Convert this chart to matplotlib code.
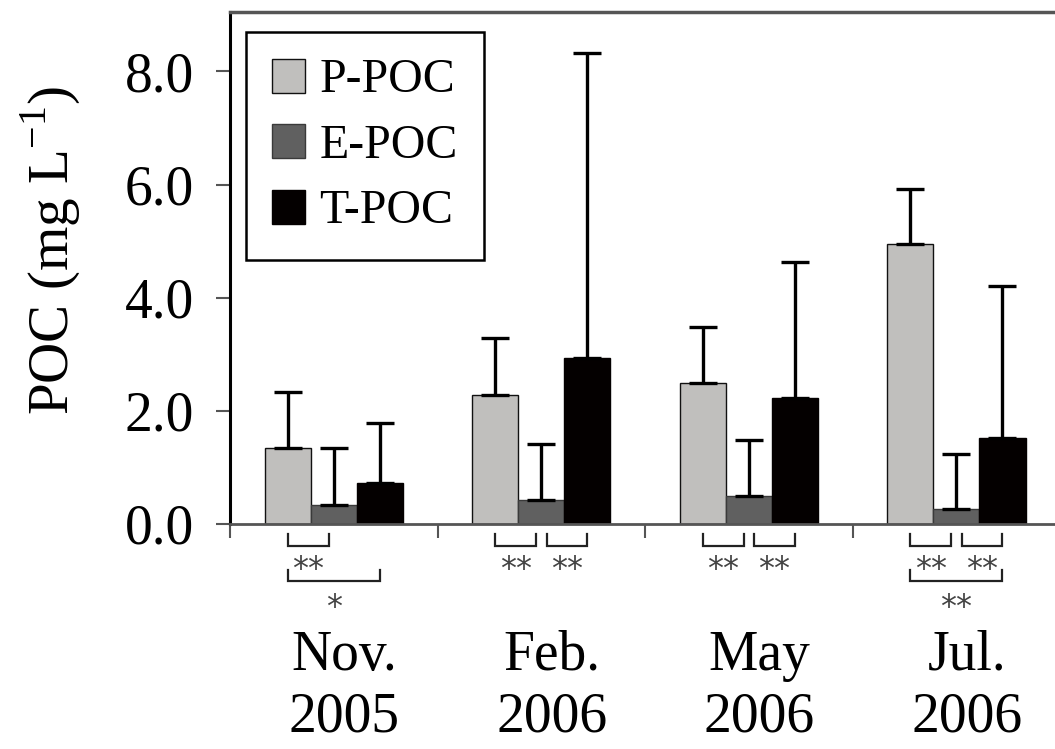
import numpy as np
import matplotlib
matplotlib.use("Agg")
import matplotlib.pyplot as plt

# data
months = ["Nov.\n2005", "Feb.\n2006", "May\n2006", "Jul.\n2006"]
series = ["P-POC", "E-POC", "T-POC"]
p_poc = [1.35, 2.28, 2.49, 4.95]
e_poc = [0.34, 0.42, 0.50, 0.27]
t_poc = [0.73, 2.94, 2.23, 1.52]
p_err = [0.99, 1.00, 1.00, 0.97]
e_err = [1.01, 1.00, 0.98, 0.97]
t_err = [1.06, 5.38, 2.40, 2.68]
colors = ["#c0bfbd", "#606060", "#040000"]

# significance brackets: (month index, bar i, bar j, row, stars)
brackets = [
    (0, 0, 1, 0, "**"),
    (0, 0, 2, 1, "*"),
    (1, 0, 1, 0, "**"),
    (1, 1, 2, 0, "**"),
    (2, 0, 1, 0, "**"),
    (2, 1, 2, 0, "**"),
    (3, 0, 1, 0, "**"),
    (3, 1, 2, 0, "**"),
    (3, 0, 2, 1, "**"),
]

plt.rcParams["font.family"] = ["Liberation Serif", "DejaVu Serif"]
plt.rcParams["mathtext.fontset"] = "custom"
plt.rcParams["mathtext.rm"] = "Liberation Serif"

fig = plt.figure(figsize=(10.55, 7.49), dpi=100)
ax = fig.add_axes([230 / 1055, 1 - 524 / 749, 1 - 230 / 1055, 512 / 749])

x = np.arange(len(months))
w = 0.222
vals = [p_poc, e_poc, t_poc]
errs = [p_err, e_err, t_err]
edges = ["#111111", "#3a3a3a", "#040000"]
for k in range(3):
    xs = x + (k - 1) * w
    ax.bar(xs, vals[k], w, color=colors[k], edgecolor=edges[k], linewidth=1.0,
           label=series[k], zorder=2)
    ax.errorbar(xs, vals[k], yerr=[np.zeros(4), errs[k]], fmt="none",
                ecolor="black", elinewidth=2.4, capsize=10, capthick=2.4, zorder=3)

ax.set_xlim(-0.5, 3.475)
ax.set_ylim(0, 9.05)

ax.set_yticks([0, 2, 4, 6, 8])
ax.set_yticklabels(["0.0", "2.0", "4.0", "6.0", "8.0"])
ax.tick_params(axis="y", direction="out", length=10, width=1.5, color="#555555",
               labelsize=40, pad=16)

ax.set_xticks([-0.5, 0.5, 1.5, 2.5])
ax.set_xticklabels([])
ax.tick_params(axis="x", which="major", direction="out", length=10, width=1.5,
               color="#555555")
ax.set_xticks(x + 0.05, minor=True)
ax.set_xticklabels(months, minor=True, fontsize=40, linespacing=1.25)
ax.tick_params(axis="x", which="minor", length=0, pad=76)

ax.spines["left"].set_linewidth(2.2)
ax.spines["left"].set_color("black")
ax.spines["top"].set_linewidth(2.5)
ax.spines["top"].set_color("#555555")
ax.spines["bottom"].set_linewidth(2.0)
ax.spines["bottom"].set_color("#555555")
ax.spines["right"].set_visible(False)

ax.set_ylabel("POC (mg L$^{\\mathrm{-1}}$)", fontsize=41)
ax.yaxis.set_label_coords(-0.18, 0.535)

leg = ax.legend(loc="upper left", bbox_to_anchor=(246 / 1055, 1 - 32 / 749),
                bbox_transform=fig.transFigure, borderaxespad=0, fontsize=34.5,
                fancybox=False, framealpha=1, edgecolor="black",
                handlelength=0.68, handleheight=0.72, handletextpad=0.3,
                labelspacing=0.45, borderpad=0.55)
leg.get_frame().set_linewidth(1.8)

# brackets below the axis
row_top = [-0.18, -0.81]
row_bot = [-0.39, -1.01]
row_txt = [-0.95, -1.62]
for m, i, j, r, s in brackets:
    x1 = x[m] + (i - 1) * w + (0.025 if i == 1 else 0)
    x2 = x[m] + (j - 1) * w - (0.025 if j == 1 else 0)
    ax.plot([x1, x1, x2, x2], [row_top[r], row_bot[r], row_bot[r], row_top[r]],
            color="#222222", lw=1.6, clip_on=False, solid_joinstyle="miter")
    ax.text((x1 + x2) / 2, row_txt[r], s, ha="center", va="baseline",
            fontsize=23, family="DejaVu Sans", color="#444444", clip_on=False)

fig.savefig("out.png", dpi=100)
